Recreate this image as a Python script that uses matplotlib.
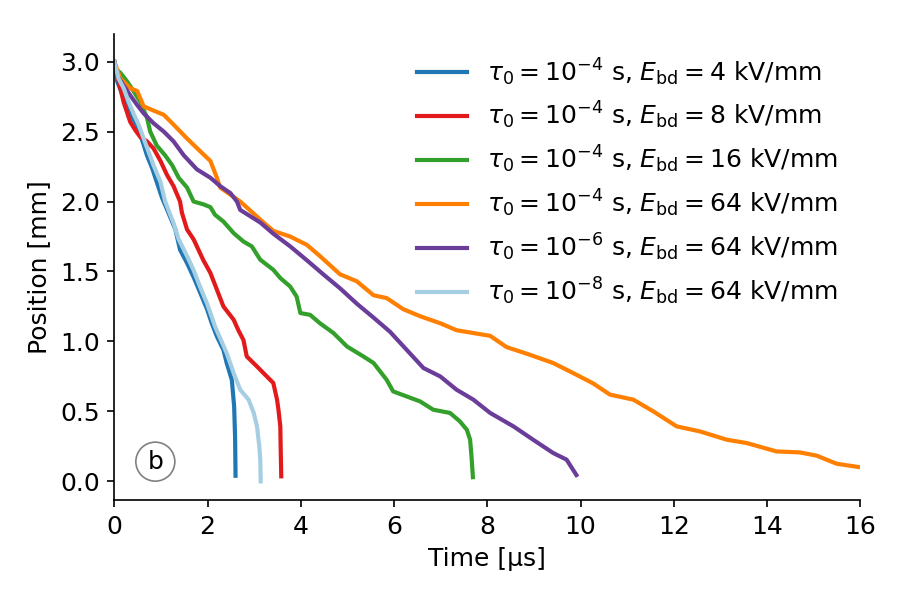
import matplotlib
matplotlib.use("Agg")
import matplotlib.pyplot as plt

# streamer head position vs time
t_a = [0, 0.06, 0.20, 0.34, 0.49, 0.63, 0.70, 0.81, 0.91, 1.02, 1.16, 1.31, 1.41, 1.56, 1.70,
       1.84, 1.99, 2.09, 2.20, 2.34, 2.41, 2.52, 2.57, 2.59, 2.60]
y_a = [3.0, 2.86, 2.74, 2.63, 2.54, 2.405, 2.33, 2.24, 2.14, 2.03, 1.92, 1.80, 1.655, 1.56, 1.46,
       1.35, 1.23, 1.13, 1.036, 0.94, 0.846, 0.726, 0.536, 0.32, 0.04]

t_b = [0, 0.10, 0.20, 0.27, 0.34, 0.45, 0.56, 0.70, 0.84, 0.99, 1.13, 1.27, 1.41, 1.45, 1.56,
       1.70, 1.91, 2.06, 2.20, 2.34, 2.56, 2.66, 2.77, 2.84, 3.06, 3.27, 3.41, 3.49, 3.52,
       3.56, 3.57, 3.58]
y_b = [3.0, 2.85, 2.71, 2.64, 2.57, 2.51, 2.46, 2.43, 2.38, 2.29, 2.19, 2.11, 2.00, 1.92, 1.80,
       1.73, 1.58, 1.49, 1.37, 1.25, 1.155, 1.08, 1.01, 0.893, 0.821, 0.75, 0.703, 0.584, 0.512,
       0.393, 0.203, 0.036]

t_c = [0, 0.02, 0.13, 0.27, 0.41, 0.56, 0.70, 0.77, 0.91, 1.09, 1.24, 1.38, 1.56, 1.70, 1.91,
       2.06, 2.16, 2.34, 2.56, 2.77, 2.95, 3.13, 3.41, 3.56, 3.77, 3.91, 3.99, 4.20, 4.41, 4.70,
       4.99, 5.34, 5.56, 5.84, 5.98, 6.27, 6.56, 6.84, 7.20, 7.41, 7.56, 7.63, 7.66, 7.69]
y_c = [3.0, 2.95, 2.92, 2.86, 2.79, 2.71, 2.60, 2.50, 2.40, 2.33, 2.26, 2.17, 2.10, 2.00, 1.98,
       1.96, 1.905, 1.857, 1.774, 1.714, 1.679, 1.584, 1.512, 1.453, 1.393, 1.321, 1.203, 1.19,
       1.13, 1.06, 0.964, 0.893, 0.846, 0.726, 0.643, 0.607, 0.571, 0.512, 0.489, 0.429, 0.369,
       0.298, 0.179, 0.03]

t_d = [0, 0.13, 0.34, 0.49, 0.63, 0.84, 1.06, 1.27, 1.56, 1.84, 2.06, 2.20, 2.27, 2.70, 3.20,
       3.41, 3.77, 4.13, 4.41, 4.84, 5.20, 5.56, 5.84, 6.20, 6.56, 6.99, 7.34, 7.70, 8.06, 8.41,
       8.91, 9.41, 9.84, 10.27, 10.63, 11.13, 11.56, 12.06, 12.56, 13.13, 13.56, 14.20, 14.70,
       15.06, 15.49, 15.95]
y_d = [3.0, 2.88, 2.81, 2.79, 2.68, 2.65, 2.62, 2.55, 2.45, 2.36, 2.29, 2.17, 2.10, 2.00, 1.85,
       1.79, 1.75, 1.69, 1.61, 1.48, 1.43, 1.33, 1.31, 1.23, 1.18, 1.13, 1.08, 1.06, 1.04, 0.96,
       0.905, 0.846, 0.774, 0.70, 0.62, 0.584, 0.50, 0.393, 0.357, 0.298, 0.274, 0.214, 0.207,
       0.184, 0.126, 0.103]

t_e = [0, 0.06, 0.24, 0.34, 0.49, 0.63, 0.84, 1.06, 1.27, 1.49, 1.77, 2.06, 2.27, 2.49, 2.63,
       2.70, 3.13, 3.41, 3.77, 4.13, 4.48, 4.84, 5.20, 5.56, 5.91, 6.27, 6.63, 6.99, 7.34, 7.70,
       8.06, 8.56, 8.98, 9.41, 9.70, 9.91]
y_e = [3.0, 2.90, 2.81, 2.76, 2.69, 2.63, 2.56, 2.50, 2.43, 2.33, 2.23, 2.17, 2.11, 2.06, 2.00,
       1.94, 1.85, 1.77, 1.68, 1.58, 1.48, 1.38, 1.27, 1.17, 1.07, 0.94, 0.81, 0.75, 0.655, 0.584,
       0.489, 0.393, 0.298, 0.203, 0.155, 0.045]

t_f = [0, 0.09, 0.20, 0.31, 0.41, 0.52, 0.63, 0.73, 0.84, 0.99, 1.09, 1.27, 1.38, 1.56, 1.70,
       1.84, 1.99, 2.16, 2.41, 2.56, 2.70, 2.88, 2.99, 3.06, 3.11, 3.13, 3.14]
y_f = [3.0, 2.88, 2.81, 2.71, 2.63, 2.55, 2.45, 2.36, 2.26, 2.14, 2.00, 1.846, 1.73, 1.61, 1.51,
       1.39, 1.27, 1.107, 0.917, 0.774, 0.655, 0.584, 0.489, 0.393, 0.25, 0.155, 0.0]

labels = [r"$\tau_0 = 10^{-4}$ s, $E_\mathrm{bd} = 4$ kV/mm",
          r"$\tau_0 = 10^{-4}$ s, $E_\mathrm{bd} = 8$ kV/mm",
          r"$\tau_0 = 10^{-4}$ s, $E_\mathrm{bd} = 16$ kV/mm",
          r"$\tau_0 = 10^{-4}$ s, $E_\mathrm{bd} = 64$ kV/mm",
          r"$\tau_0 = 10^{-6}$ s, $E_\mathrm{bd} = 64$ kV/mm",
          r"$\tau_0 = 10^{-8}$ s, $E_\mathrm{bd} = 64$ kV/mm"]
colors = ["#1f78b4", "#e31a1c", "#33a02c", "#ff7f00", "#6a3d9a", "#a6cee3"]

plt.rcParams['font.size'] = 12
fig, ax = plt.subplots(figsize=(6, 4), dpi=150)
fig.subplots_adjust(left=0.127, right=0.956, top=0.944, bottom=0.166)

series = [(t_a, y_a), (t_b, y_b), (t_c, y_c), (t_d, y_d), (t_e, y_e), (t_f, y_f)]
for (t, y), lab, c in zip(series, labels, colors):
    ax.plot(t, y, color=c, lw=2, label=lab)

ax.set_xlim(0, 16)
ax.set_ylim(-0.136, 3.2)
ax.set_xticks([0, 2, 4, 6, 8, 10, 12, 14, 16])
ax.set_yticks([0, 0.5, 1.0, 1.5, 2.0, 2.5, 3.0])
ax.set_xlabel("Time [μs]")
ax.set_ylabel("Position [mm]")
ax.spines['top'].set_visible(False)
ax.spines['right'].set_visible(False)

ax.legend(loc='upper right', frameon=False)
ax.text(0.055, 0.083, "b", transform=ax.transAxes, ha='center', va='center',
        bbox=dict(boxstyle='circle,pad=0.3', fc='white', ec='gray', lw=0.8))

fig.savefig("out.png", dpi=150)
